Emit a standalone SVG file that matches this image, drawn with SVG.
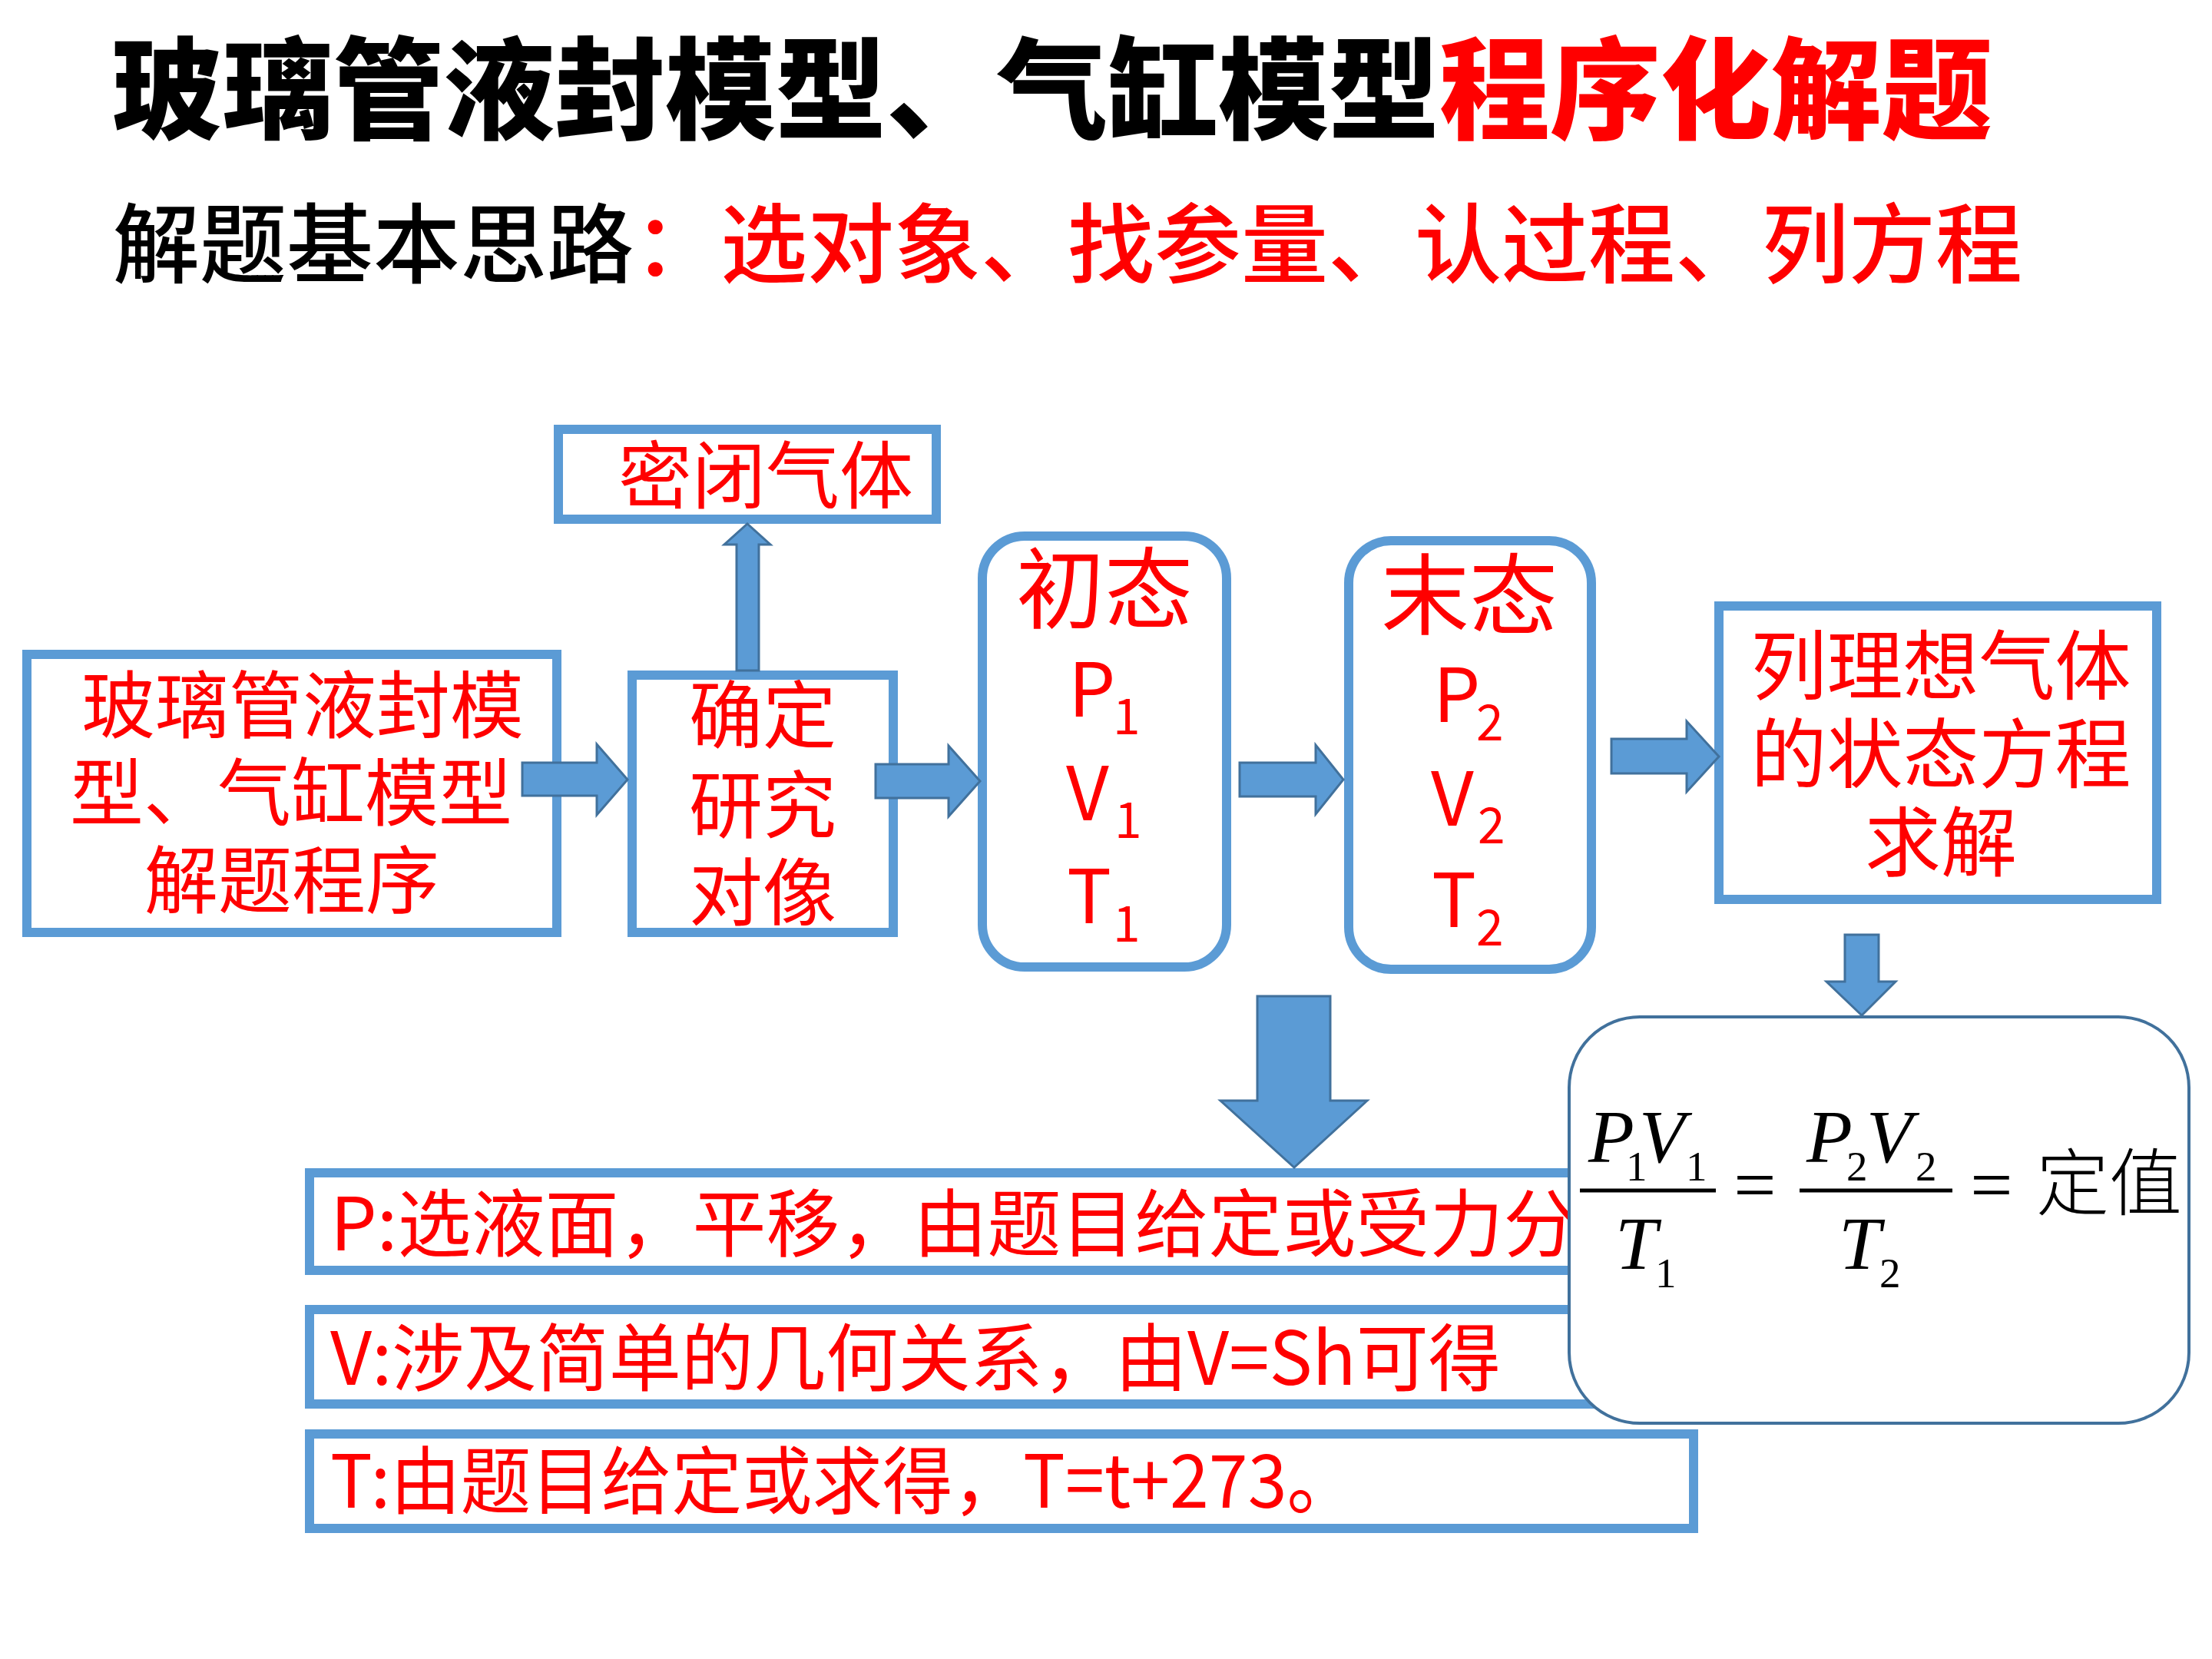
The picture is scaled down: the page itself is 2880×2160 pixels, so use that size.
<svg xmlns="http://www.w3.org/2000/svg" width="2880" height="2160" viewBox="0 0 2880 2160">
<defs>
<style>
.cjk{font-family:"Noto Sans CJK SC","Noto Sans",sans-serif;}
.red{fill:#FF0000;}
.blk{fill:#000000;}
.box{fill:#FFFFFF;stroke:#5B9BD5;stroke-width:12;}
.fbox{fill:#FFFFFF;stroke:#41719C;stroke-width:4;}
.arr{fill:#5B9BD5;stroke:#41719C;stroke-width:3;stroke-linejoin:miter;}
.lbl{font-family:"Noto Sans CJK SC","Noto Sans",sans-serif;fill:#FF0000;}
.math{font-family:"Liberation Serif","Times New Roman",serif;fill:#000000;}
.it{font-style:italic;}
.up{font-style:normal;}
</style>
</defs>
<rect width="2880" height="2160" fill="#FFFFFF"/>

<g id="title">
<text class="cjk" x="146" y="170" font-size="144" font-weight="900"><tspan class="blk">玻璃管液封模型、气缸模型</tspan><tspan class="red">程序化解题</tspan></text>
</g>
<g id="subtitle">
<text class="cjk" x="147" y="359" font-size="113" font-weight="500"><tspan class="blk">解题基本思路</tspan><tspan class="red">：选对象、找参量、认过程、列方程</tspan></text>
</g>

<g id="node-start">
<rect class="box" x="35" y="852" width="690" height="362"/>
<text class="lbl" x="106" y="953" font-size="96">玻璃管液封模</text>
<text class="lbl" x="91" y="1067" font-size="96">型、气缸模型</text>
<text class="lbl" x="188" y="1181" font-size="96">解题程序</text>
</g>

<g id="node-object">
<rect class="box" x="823" y="879" width="340" height="335"/>
<text class="lbl" x="993" y="966" font-size="96" text-anchor="middle">确定</text>
<text class="lbl" x="993" y="1083" font-size="96" text-anchor="middle">研究</text>
<text class="lbl" x="993" y="1197" font-size="96" text-anchor="middle">对像</text>
</g>

<g id="node-gas">
<rect class="box" x="727" y="559" width="492" height="117"/>
<text class="lbl" x="997" y="654" font-size="96" text-anchor="middle">密闭气体</text>
</g>

<g id="node-initial">
<rect class="box" x="1279" y="698" width="318" height="561" rx="55" ry="55"/>
<text class="lbl" x="1438" y="809" font-size="115" text-anchor="middle">初态</text>
<text class="lbl" x="1391" y="933" font-size="97">P<tspan x="1449" dy="23" font-size="64">1</tspan></text>
<text class="lbl" x="1388" y="1068" font-size="97">V<tspan x="1451" dy="23" font-size="64">1</tspan></text>
<text class="lbl" x="1389" y="1202" font-size="97">T<tspan x="1449" dy="24" font-size="64">1</tspan></text>
</g>

<g id="node-final">
<rect class="box" x="1756" y="704" width="316" height="558" rx="55" ry="55"/>
<text class="lbl" x="1913" y="817" font-size="115" text-anchor="middle">末态</text>
<text class="lbl" x="1866" y="940" font-size="97">P<tspan x="1922" dy="24" font-size="64">2</tspan></text>
<text class="lbl" x="1863" y="1075" font-size="97">V<tspan x="1924" dy="23" font-size="64">2</tspan></text>
<text class="lbl" x="1864" y="1207" font-size="97">T<tspan x="1922" dy="24" font-size="64">2</tspan></text>
</g>

<g id="node-equation">
<rect class="box" x="2238" y="789" width="570" height="382"/>
<text class="lbl" x="2527" y="903" font-size="99" text-anchor="middle">列理想气体</text>
<text class="lbl" x="2527" y="1018" font-size="99" text-anchor="middle">的状态方程</text>
<text class="lbl" x="2527" y="1133" font-size="99" text-anchor="middle">求解</text>
</g>

<g id="node-p">
<rect class="box" x="403" y="1527" width="1700" height="127"/>
<text class="lbl" x="430" y="1628" font-size="96">P:选液面，平移，由题目给定或受力分</text>
</g>
<g id="node-v">
<rect class="box" x="403" y="1705" width="1700" height="123"/>
<text class="lbl" x="430" y="1803" font-size="96" textLength="1524" lengthAdjust="spacingAndGlyphs">V:涉及简单的几何关系，由V=Sh可得</text>
</g>
<g id="node-t">
<rect class="box" x="403" y="1867" width="1802" height="123"/>
<text class="lbl" x="430" y="1963" font-size="96" textLength="1337" lengthAdjust="spacingAndGlyphs">T:由题目给定或求得，T=t+273。</text>
</g>

<g id="node-formula">
<rect class="fbox" x="2043" y="1324" width="807" height="529" rx="92" ry="92"/>
<text class="math it" x="2068" y="1513" font-size="98">P<tspan class="up" x="2117" dy="24" font-size="55">1</tspan><tspan x="2134" dy="-24">V</tspan><tspan class="up" x="2195" dy="24" font-size="55">1</tspan></text>
<line x1="2057" y1="1550" x2="2234" y2="1550" stroke="#000000" stroke-width="5"/>
<text class="math it" x="2103" y="1652" font-size="98">T<tspan class="up" x="2155" dy="24" font-size="55">1</tspan></text>
<text class="math" x="2285" y="1575" font-size="98" text-anchor="middle">=</text>
<text class="math it" x="2352" y="1513" font-size="98">P<tspan class="up" x="2404" dy="24" font-size="55">2</tspan><tspan x="2430" dy="-24">V</tspan><tspan class="up" x="2494" dy="24" font-size="55">2</tspan></text>
<line x1="2343" y1="1550" x2="2542" y2="1550" stroke="#000000" stroke-width="5"/>
<text class="math it" x="2394" y="1652" font-size="98">T<tspan class="up" x="2447" dy="24" font-size="55">2</tspan></text>
<text class="math" x="2593" y="1575" font-size="98" text-anchor="middle">=</text>
<text class="cjk blk" x="2651" y="1575" font-size="95" font-weight="300">定值</text>
</g>

<g id="connectors">
<polygon class="arr" points="680,993 777,993 777,969 817,1015 777,1061 777,1036 680,1036"/>
<polygon class="arr" points="1140,995 1235,995 1235,971 1276,1017 1235,1063 1235,1039 1140,1039"/>
<polygon class="arr" points="1614,993 1713,993 1713,970 1749,1015 1713,1060 1713,1037 1614,1037"/>
<polygon class="arr" points="2098,962 2196,962 2196,939 2238,985 2196,1031 2196,1007 2098,1007"/>
<polygon class="arr" points="959,873 959,709 943,709 973,682 1003,709 988,709 988,873"/>
<polygon class="arr" points="1637,1297 1732,1297 1732,1433 1780,1433 1685,1520 1589,1433 1637,1433"/>
<polygon class="arr" points="2402,1217 2446,1217 2446,1278 2468,1278 2424,1322 2378,1278 2402,1278"/>
</g>
</svg>
